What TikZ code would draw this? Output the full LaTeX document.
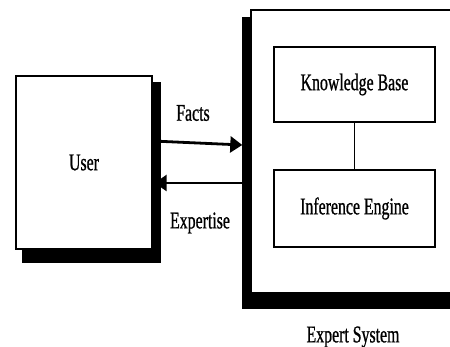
\documentclass[tikz,border=0pt]{standalone}
\usepackage{fontspec}
\setmainfont[FakeStretch=0.66,FakeBold=0.8]{Liberation Serif}
\usepackage{tikz}
\usetikzlibrary{arrows.meta,backgrounds}

\tikzset{
  box/.style={draw,line width=1.4pt,fill=white,rectangle,inner sep=0pt},
  shade/.style={fill=black,draw=none},
  flow/.style={line width=2.8pt,-{Triangle[length=12pt,width=16pt]}},
  lbl/.style={inner sep=0.75pt,font=\fontsize{24}{28}\selectfont}
}

\begin{document}
\begin{tikzpicture}[x=1pt,y=1pt,yscale=-1]
%set diagram from 0 to 450 wide and 347 high
\useasboundingbox (0,0) rectangle (450,347);

%Shape: Rectangle [user]
\node [box,lbl,minimum width=136pt,minimum height=173pt] (user) at (84,162.5) {User};
%Shape: Rectangle [expert system]
\node [box,minimum width=211pt,minimum height=283pt] (sys) at (356.5,151.5) {};
%Shape: Rectangle [knowledge base]
\node [box,lbl,line width=1.8pt,minimum width=161pt,minimum height=75pt] (kb) at (354.5,84.5) {Knowledge Base};
%Shape: Rectangle [inference engine]
\node [box,lbl,line width=1.8pt,minimum width=161pt,minimum height=77pt] (ie) at (354.5,208.5) {Inference Engine};

%Shadows
\begin{pgfonlayer}{background}
\fill [shade] ([shift={(7,7)}]user.north west) rectangle ([shift={(8,13)}]user.south east);
\fill [shade] ([shift={(-8,8)}]sys.north west) rectangle ([shift={(0,15)}]sys.south east);
\end{pgfonlayer}

%Straight Lines
\draw [line width=1pt] (kb) -- (ie);
\draw [flow] ([shift={(0,-21.5)}]user.east) -- ([shift={(-8,-6.5)}]sys.west);
\draw [flow] ([shift={(-8,31.5)}]sys.west) -- ([shift={(2,20.5)}]user.east);

% Text Node
\node [lbl] (facts) at (193,113) {Facts};
% Text Node
\node [lbl] (expertise) at (200,223) {Expertise};
% Text Node
\node [lbl] (syslabel) at (353,337) {Expert System};

\end{tikzpicture}
\end{document}
